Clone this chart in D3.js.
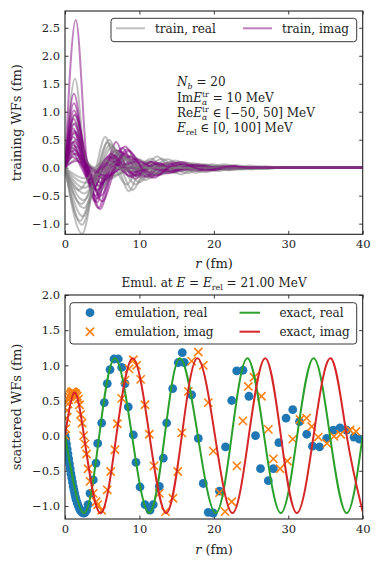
<!DOCTYPE html>
<html>
<head>
<meta charset="utf-8">
<script src="https://cdn.jsdelivr.net/npm/d3@7"></script>
<style>
  body { margin: 0; background: #fff; }
  svg text { font-family: "DejaVu Serif", serif; fill: #222; }
</style>
</head>
<body>
<div id="chart"></div>
<script>
// ---- data ----
// training wave functions: knots [r (fm), value (fm)] along each curve
const trainReal = [
  [[0,0],[1.35,1.59],[2.8,0],[3.9,-0.32],[5.1,0],[6.4,0.1],[7.8,0],[40,0]],
  [[0,0],[1.3,0.93],[2.9,0],[4.3,-0.4],[5.8,0],[7.2,0.15],[8.7,0],[10.2,-0.05],[11.8,0],[40,0]],
  [[0,0],[1.3,0.80],[3.1,0],[4.6,-0.45],[6.2,0],[7.9,0.2],[9.6,0],[11.3,-0.08],[13,0],[14.8,0.03],[16.5,0],[40,0]],
  [[0,0],[1.4,0.64],[3.2,0],[4.9,-0.38],[6.6,0],[8.4,0.22],[10.2,0],[12,-0.1],[13.8,0],[15.6,0.05],[17.4,0],[19.2,-0.02],[21,0],[40,0]],
  [[0,0],[1.5,0.50],[3.4,0],[5.2,-0.3],[7,0],[9,0.22],[11,0],[13,-0.12],[15,0],[17,0.06],[19,0],[21,-0.03],[23,0],[40,0]],
  [[0,0],[1.5,0.38],[3.5,0],[5.6,-0.22],[7.6,0],[9.8,0.15],[12,0],[14,-0.09],[16,0],[18.2,0.05],[20.3,0],[22.5,-0.025],[24.5,0],[40,0]],
  [[0,0],[1.6,0.26],[3.7,0],[6,-0.2],[8.4,0],[10.6,0.1],[12.8,0],[15,-0.07],[17.3,0],[19.5,0.04],[21.7,0],[24,-0.025],[26.3,0],[40,0]],
  [[0,0],[1.7,0.16],[3.9,0],[6.5,-0.14],[9,0],[11.5,0.08],[14,0],[16.5,-0.05],[19,0],[21.5,0.035],[24,0],[26.5,-0.02],[29,0],[40,0]],
  [[0,0],[2.3,-1.18],[4.2,0],[5.4,0.55],[6.8,0],[8.3,-0.3],[9.8,0],[11.3,0.12],[12.8,0],[14.3,-0.05],[15.8,0],[40,0]],
  [[0,0],[2.3,-1.02],[4.4,0],[5.7,0.45],[7.2,0],[8.6,-0.42],[10.1,0],[11.6,0.16],[13.1,0],[14.6,-0.09],[16.1,0],[17.6,0.04],[19.1,0],[40,0]],
  [[0,0],[2.4,-0.87],[4.5,0],[5.9,0.5],[7.5,0],[9.1,-0.4],[10.8,0],[12.4,0.2],[14,0],[15.6,-0.12],[17.2,0],[18.8,0.06],[20.4,0],[22,-0.03],[23.6,0],[40,0]],
  [[0,0],[2.5,-0.72],[4.6,0],[6.1,0.42],[7.8,0],[9.5,-0.3],[11.3,0],[13,0.16],[14.7,0],[16.4,-0.1],[18.1,0],[19.8,0.06],[21.5,0],[23.2,-0.03],[24.9,0],[40,0]],
  [[0,0],[2.5,-0.58],[4.7,0],[6.4,0.38],[8.2,0],[10,-0.26],[11.9,0],[13.8,0.15],[15.7,0],[17.6,-0.09],[19.5,0],[21.4,0.06],[23.3,0],[25.2,-0.03],[27.1,0],[40,0]],
  [[0,0],[2.6,-0.46],[4.9,0],[6.8,0.3],[8.8,0],[10.8,-0.22],[12.8,0],[14.8,0.13],[16.8,0],[18.8,-0.08],[20.8,0],[22.8,0.05],[24.8,0],[26.8,-0.025],[28.8,0],[40,0]],
  [[0,0],[2.6,-0.36],[5.1,0],[7.2,0.25],[9.4,0],[11.6,-0.15],[13.8,0],[16,0.1],[18.2,0],[20.4,-0.06],[22.6,0],[24.8,0.04],[27,0],[40,0]],
  [[0,0],[2.7,-0.27],[5.3,0],[7.6,0.2],[10,0],[12.4,-0.12],[14.8,0],[17.2,0.08],[19.6,0],[22,-0.045],[24.4,0],[26.8,0.025],[29.2,0],[40,0]],
  [[0,0],[2.8,-0.19],[5.6,0],[8.2,0.15],[10.8,0],[13.4,-0.08],[16,0],[18.6,0.05],[21.2,0],[23.8,-0.03],[26.4,0],[40,0]],
  [[0,0],[2,-0.95],[4,-0.3],[6,-0.05],[9,0],[40,0]],
  [[0,0],[2.2,-0.65],[4.3,-0.15],[6.5,0],[8.5,0.03],[11,0],[40,0]],
  [[0,0],[1.8,-0.4],[4,0],[5.5,0.12],[7.2,0],[9,-0.05],[11,0],[40,0]]
];

const trainImag = [
  [[0,0],[1.45,2.64],[3,0],[4.3,-0.62],[5.6,0],[6.9,0.46],[8.2,0],[9.5,-0.2],[10.9,0],[12.3,0.08],[13.8,0],[40,0]],
  [[0,0],[1.2,1.32],[2.8,0],[4.1,-0.5],[5.5,0],[6.8,0.3],[8.2,0],[9.6,-0.14],[11,0],[12.5,0.06],[14,0],[40,0]],
  [[0,0],[1.2,1.15],[2.9,0],[4.5,-0.72],[6.1,0],[7.7,0.35],[9.3,0],[10.9,-0.16],[12.5,0],[14.1,0.06],[15.7,0],[40,0]],
  [[0,0],[1.2,1.02],[3,0],[4.7,-0.74],[6.4,0],[8.1,0.38],[9.8,0],[11.5,-0.18],[13.2,0],[14.9,0.09],[16.6,0],[18.3,-0.04],[20,0],[40,0]],
  [[0,0],[1.15,0.87],[2.8,0],[4,-0.6],[5.4,0],[6.8,0.32],[8.3,0],[9.8,-0.16],[11.3,0],[12.8,0.08],[14.3,0],[40,0]],
  [[0,0],[1.2,0.78],[2.9,0],[4.3,-0.55],[5.8,0],[7.3,0.3],[8.9,0],[10.5,-0.17],[12.1,0],[13.7,0.09],[15.3,0],[16.9,-0.04],[18.5,0],[40,0]],
  [[0,0],[1.1,0.70],[2.6,0],[3.7,-0.45],[5,0],[6.3,0.2],[7.7,0],[9.1,-0.08],[10.6,0],[40,0]],
  [[0,0],[1.2,0.62],[2.9,0],[4.4,-0.4],[6,0],[7.6,0.28],[9.3,0],[11,-0.16],[12.7,0],[14.4,0.1],[16.1,0],[17.8,-0.06],[19.5,0],[21.2,0.03],[23,0],[40,0]],
  [[0,0],[1.1,0.55],[2.7,0],[3.9,-0.35],[5.2,0],[6.6,0.18],[8.1,0],[9.6,-0.08],[11.2,0],[40,0]],
  [[0,0],[1.2,0.47],[3,0],[4.6,-0.32],[6.3,0],[8,0.25],[9.8,0],[11.6,-0.15],[13.4,0],[15.2,0.09],[17,0],[18.8,-0.05],[20.6,0],[22.4,0.03],[24.2,0],[40,0]],
  [[0,0],[1.1,0.40],[2.6,0],[3.6,-0.3],[4.9,0],[6.2,0.12],[7.6,0],[40,0]],
  [[0,0],[1.3,0.31],[3.1,0],[4.9,-0.28],[6.8,0],[8.7,0.2],[10.6,0],[12.5,-0.13],[14.4,0],[16.3,0.08],[18.2,0],[20.1,-0.045],[22,0],[40,0]],
  [[0,0],[1.2,0.25],[3.3,0],[5.3,-0.2],[7.4,0],[9.5,0.15],[11.6,0],[13.7,-0.1],[15.8,0],[17.9,0.06],[20,0],[22.1,-0.035],[24.2,0],[40,0]],
  [[0,0],[1,0.19],[2.5,0],[3.6,-0.22],[5,0],[6.5,0.06],[8,0],[40,0]],
  [[0,0],[0.9,0.3],[2.2,0],[3.3,-0.25],[4.6,0],[5.9,0.2],[7.3,0],[8.7,-0.15],[10.1,0],[11.5,0.1],[12.9,0],[14.3,-0.07],[15.7,0],[17.1,0.05],[18.5,0],[19.9,-0.035],[21.3,0],[22.7,0.02],[24.1,0],[40,0]],
  [[0,0],[1,0.45],[2.4,0],[3.5,-0.3],[4.8,0],[6.2,0.25],[7.6,0],[9,-0.17],[10.4,0],[11.8,0.11],[13.2,0],[14.6,-0.08],[16,0],[17.4,0.05],[18.8,0],[20.2,-0.035],[21.6,0],[23,0.02],[24.4,0],[40,0]],
  [[0,0],[1,0.35],[2.5,0],[3.8,-0.38],[5.2,0],[6.6,0.22],[8,0],[9.5,-0.14],[11,0],[12.5,0.08],[14,0],[15.5,-0.05],[17,0],[18.5,0.03],[20,0],[40,0]],
  [[0,0],[1.5,0.12],[3.5,0],[5.5,-0.15],[7.6,0],[9.7,0.11],[11.8,0],[13.9,-0.07],[16,0],[18.1,0.04],[20.2,0],[40,0]],
  [[0,0],[1.3,0.95],[3.2,0],[5,-0.6],[6.8,0],[8.6,0.3],[10.4,0],[12.2,-0.14],[14,0],[15.8,0.06],[17.6,0],[40,0]],
  [[0,0],[1.2,0.66],[3,0],[4.8,-0.5],[6.6,0],[8.4,0.33],[10.2,0],[12,-0.18],[13.8,0],[15.6,0.1],[17.4,0],[19.2,-0.05],[21,0],[22.8,0.025],[24.6,0],[40,0]]
];

// emulated scattering wave function at E = 21 MeV
const emuRealR = [0,0.1,0.2,0.3,0.4,0.5,0.6,0.7,0.8,0.9,1.0,1.1,1.2,1.3,1.4,1.5,1.65,1.8,1.95,2.1,2.3,2.5,2.7,2.9,3.1,
  3.36,3.8,4.17,4.39,4.93,5.28,5.68,6.05,6.58,7.16,7.62,8.06,8.5,9.18,9.54,10.08,10.75,11.42,11.86,12.67,13.21,13.66,
  14.47,15.22,15.76,16.03,17.02,17.91,18.58,19.25,19.93,20.76,21.57,22.4,23.07,23.92,24.72,25.6,26.27,27.32,28.0,28.73,
  29.7,30.6,31.5,32.48,33.25,34.2,35.16,36.05,36.95,37.85,38.83,39.57];
const emuRealV = [0,-0.05,-0.12,-0.19,-0.26,-0.33,-0.40,-0.47,-0.54,-0.60,-0.66,-0.72,-0.77,-0.82,-0.87,-0.91,-0.96,-1.00,-1.04,-1.07,-1.09,-1.10,-1.09,-1.06,-0.98,
  -0.82,-0.63,-0.39,-0.11,0.18,0.47,0.74,0.94,1.09,1.09,0.97,0.74,0.41,0.01,-0.38,-0.73,-0.98,-1.06,-0.98,-0.72,-0.32,0.18,
  0.67,1.04,1.18,1.04,0.58,-0.04,-0.68,-1.09,-1.10,-0.79,-0.16,0.50,0.92,0.93,0.56,0.0,-0.47,-0.64,-0.47,-0.10,
  0.25,0.37,0.20,0.02,-0.15,-0.16,-0.04,0.08,0.11,0.08,-0.02,-0.05];

const emuImagR = [0,0.1,0.2,0.3,0.4,0.5,0.6,0.7,0.8,0.9,1.0,1.1,1.2,1.3,1.4,1.5,1.65,1.8,1.95,2.1,2.3,2.5,2.7,2.9,3.1,
  3.36,3.8,4.17,4.39,4.93,5.68,6.14,6.72,7.03,7.62,8.06,8.6,9.18,9.63,10.17,10.75,11.33,11.96,12.67,13.5,14.5,15.15,15.7,
  16.57,17.02,17.91,18.58,19.25,19.93,20.76,21.5,22.4,23.1,23.9,24.63,25.4,26.4,27.32,28.0,28.9,29.87,30.6,31.58,32.47,
  33.15,34.03,35.2,36.14,37.04,38.29,39.1];
const emuImagV = [0,0.10,0.25,0.36,0.45,0.51,0.55,0.58,0.60,0.62,0.62,0.62,0.61,0.60,0.60,0.58,0.56,0.52,0.44,0.30,0.18,0.0,-0.12,-0.26,-0.47,
  -0.65,-0.82,-0.94,-0.98,-1.06,-0.77,-0.51,-0.20,0.17,0.53,0.79,0.95,1.08,1.0,0.80,0.44,0.02,-0.43,-0.82,-1.08,-0.89,-0.51,0.04,
  0.63,1.06,1.19,1.0,0.47,-0.22,-0.81,-1.08,-0.94,-0.43,0.21,0.70,0.83,0.56,0.09,-0.33,-0.47,-0.36,-0.05,0.23,0.25,
  0.13,-0.02,-0.11,-0.01,0.02,0.08,0.06];

// exact solution: knots at zeros and extrema
const exactReal = [[0,0],[2.55,-1.1],[4.6,0],[6.7,1.1],[9.0,0],[11.3,-1.1],[13.4,0],[15.45,1.1],[17.85,0],[20.25,-1.1],
  [22.4,0],[24.5,1.1],[26.75,0],[29.0,-1.1],[31.2,0],[33.4,1.1],[35.6,0],[37.85,-1.1],[40,0]];
const exactImag = [[0,0],[1.2,0.61],[2.55,0],[4.7,-1.1],[6.9,0],[9.1,1.1],[11.35,0],[13.6,-1.1],[15.7,0],[17.8,1.1],
  [20.15,0],[22.5,-1.1],[24.7,0],[26.9,1.1],[29.0,0],[31.15,-1.1],[33.4,0],[35.7,1.1],[37.85,0],[40,-1.08]];

const xTicks = [0, 10, 20, 30, 40];
const yTicksTop = [-1.0, -0.5, 0.0, 0.5, 1.0, 1.5, 2.0, 2.5];
const yTicksBot = [-1.0, -0.5, 0.0, 0.5, 1.0, 1.5, 2.0];

(function () {
  const W = 381, H = 568;
  const svg = d3.select("#chart").append("svg")
    .attr("width", W).attr("height", H);

  const x = d3.scaleLinear().domain([0, 40]).range([65, 362.7]);
  const yTop = d3.scaleLinear().domain([-1.19, 2.80]).range([234.3, 11]);
  const yBot = d3.scaleLinear().domain([-1.185, 2.0]).range([519, 295]);

  // inward ticks on all four sides, labels on left/bottom
  function frame(y, yTicks, id) {
    const [y0, y1] = y.range();
    const g = svg.append("g");
    const fmt = d3.format(".1f");

    g.append("g").attr("transform", `translate(0,${y0})`)
      .call(d3.axisBottom(x).tickValues(xTicks).tickSize(-3.5).tickPadding(6).tickFormat(d3.format("d")));
    g.append("g").attr("transform", `translate(0,${y1})`)
      .call(d3.axisTop(x).tickValues(xTicks).tickSize(-3.5).tickFormat(""));
    g.append("g").attr("transform", "translate(65,0)")
      .call(d3.axisLeft(y).tickValues(yTicks).tickSize(-3.5).tickPadding(5).tickFormat(fmt));
    g.append("g").attr("transform", "translate(362.7,0)")
      .call(d3.axisRight(y).tickValues(yTicks).tickSize(-3.5).tickFormat(""));

    g.selectAll(".domain").remove();
    g.selectAll(".tick line").attr("stroke", "#222").attr("stroke-width", 0.9);
    g.selectAll(".tick text").style("font-size", "11.5px").attr("fill", "#222")
      .style("font-family", "DejaVu Serif, serif");

    svg.append("clipPath").attr("id", id)
      .append("rect").attr("x", 65).attr("y", y1).attr("width", 297.7).attr("height", y0 - y1);
    return g;
  }

  function border(y) {
    const [y0, y1] = y.range();
    svg.append("rect")
      .attr("x", 65).attr("y", y1).attr("width", 297.7).attr("height", y0 - y1)
      .attr("fill", "none").attr("stroke", "#222").attr("stroke-width", 1.1);
  }

  // math-ish text: italics, sub- and superscripts (sup can sit over the preceding sub)
  function mathText(g, xPos, yPos, parts, size) {
    const t = g.append("text").attr("x", xPos).attr("y", yPos).style("font-size", size + "px");
    let shift = 0, prev = null;
    parts.forEach(p => {
      const target = p.sub ? size * 0.25 : p.sup ? -size * 0.38 : 0;
      const s = t.append("tspan").text(p.t)
        .attr("dy", target - shift)
        .style("font-style", p.it ? "italic" : null)
        .style("font-size", (p.sub || p.sup) ? (size * 0.66) + "px" : null);
      if (p.back && prev) s.attr("dx", -prev.node().getComputedTextLength());
      shift = target;
      prev = s;
    });
    return t;
  }

  // ---------------- top panel ----------------
  frame(yTop, yTicksTop, "clipTop");

  const lineTop = d3.line()
    .x(d => x(d[0])).y(d => yTop(d[1]))
    .curve(d3.curveMonotoneX);

  const gTop = svg.append("g").attr("clip-path", "url(#clipTop)");
  trainReal.forEach((c, i) => {
    gTop.append("path").attr("d", lineTop(c))
      .attr("fill", "none").attr("stroke", "gray").attr("stroke-width", 2).attr("stroke-opacity", 0.5);
    gTop.append("path").attr("d", lineTop(trainImag[i]))
      .attr("fill", "none").attr("stroke", "purple").attr("stroke-width", 2).attr("stroke-opacity", 0.5);
  });
  border(yTop);

  // legend
  const legTop = svg.append("g");
  legTop.append("rect").attr("x", 111).attr("y", 18.3).attr("width", 245.7).attr("height", 23.4)
    .attr("rx", 3).attr("fill", "#fff").attr("stroke", "#222").attr("stroke-width", 0.9);
  [["gray", "train, real", 116], ["purple", "train, imag", 243]].forEach(([c, label, lx]) => {
    legTop.append("line").attr("x1", lx).attr("x2", lx + 29).attr("y1", 28.3).attr("y2", 28.3)
      .attr("stroke", c).attr("stroke-width", 2).attr("stroke-opacity", 0.5);
    legTop.append("text").attr("x", lx + 39).attr("y", 32.5).style("font-size", "12px").text(label);
  });

  // annotation
  const note = svg.append("g");
  mathText(note, 177, 86, [{t: "N", it: true}, {t: "b", it: true, sub: true}, {t: " = 20"}], 12);
  mathText(note, 177, 101.5, [{t: "Im"}, {t: "E", it: true}, {t: "α", it: true, sub: true},
    {t: "tr", sup: true, back: true}, {t: " = 10 MeV"}], 12);
  mathText(note, 177, 117, [{t: "Re"}, {t: "E", it: true}, {t: "α", it: true, sub: true},
    {t: "tr", sup: true, back: true}, {t: " ∈ [−50, 50] MeV"}], 12);
  mathText(note, 177, 132, [{t: "E", it: true}, {t: "rel", sub: true}, {t: " ∈ [0, 100] MeV"}], 12);

  // axis labels
  mathText(svg, 214, 268, [{t: "r", it: true}, {t: " (fm)"}], 13).attr("text-anchor", "middle");
  svg.append("text").attr("transform", "translate(21,122.7) rotate(-90)")
    .attr("text-anchor", "middle").style("font-size", "13px").text("training WFs (fm)");

  // ---------------- bottom panel ----------------
  frame(yBot, yTicksBot, "clipBot");

  const gBot = svg.append("g").attr("clip-path", "url(#clipBot)");
  gBot.selectAll("circle.emu")
    .data(emuRealR.map((r, i) => [r, emuRealV[i]]))
    .enter().append("circle").attr("class", "emu")
    .attr("cx", d => x(d[0])).attr("cy", d => yBot(d[1])).attr("r", 4.4)
    .attr("fill", "#1f77b4");

  const xSym = d3.symbol().type(d3.symbolX).size(46);
  gBot.selectAll("path.emuI")
    .data(emuImagR.map((r, i) => [r, emuImagV[i]]))
    .enter().append("path").attr("class", "emuI")
    .attr("d", xSym)
    .attr("transform", d => `translate(${x(d[0])},${yBot(d[1])})`)
    .attr("fill", "none").attr("stroke", "#ff7f0e").attr("stroke-width", 1.6);

  const lineBot = d3.line()
    .x(d => x(d[0])).y(d => yBot(d[1]))
    .curve(d3.curveNatural);
  gBot.append("path").attr("d", lineBot(exactReal))
    .attr("fill", "none").attr("stroke", "#2ca02c").attr("stroke-width", 2);
  gBot.append("path").attr("d", lineBot(exactImag))
    .attr("fill", "none").attr("stroke", "#d62728").attr("stroke-width", 2);
  border(yBot);

  // legend
  const legBot = svg.append("g");
  legBot.append("rect").attr("x", 70).attr("y", 302.7).attr("width", 286.7).attr("height", 41.3)
    .attr("rx", 3).attr("fill", "#fff").attr("stroke", "#222").attr("stroke-width", 0.9);
  legBot.append("circle").attr("cx", 90).attr("cy", 312.7).attr("r", 4.4).attr("fill", "#1f77b4");
  legBot.append("path").attr("d", xSym).attr("transform", "translate(90,331.7)")
    .attr("fill", "none").attr("stroke", "#ff7f0e").attr("stroke-width", 1.6);
  legBot.append("line").attr("x1", 239.5).attr("x2", 260).attr("y1", 312.7).attr("y2", 312.7)
    .attr("stroke", "#2ca02c").attr("stroke-width", 2);
  legBot.append("line").attr("x1", 239.5).attr("x2", 260).attr("y1", 331.7).attr("y2", 331.7)
    .attr("stroke", "#d62728").attr("stroke-width", 2);
  [["emulation, real", 115, 316.9], ["emulation, imag", 115, 335.9],
   ["exact, real", 279.5, 316.9], ["exact, imag", 279.5, 335.9]].forEach(([t, lx, ly]) => {
    legBot.append("text").attr("x", lx).attr("y", ly).style("font-size", "12px").text(t);
  });

  // title and axis labels
  mathText(svg, 214, 286.5, [{t: "Emul. at "}, {t: "E", it: true}, {t: " = "}, {t: "E", it: true},
    {t: "rel", sub: true}, {t: " = 21.00 MeV"}], 12).attr("text-anchor", "middle");
  mathText(svg, 214, 553.5, [{t: "r", it: true}, {t: " (fm)"}], 13).attr("text-anchor", "middle");
  svg.append("text").attr("transform", "translate(21,407) rotate(-90)")
    .attr("text-anchor", "middle").style("font-size", "13px").text("scattered WFs (fm)");
})();
</script>
</body>
</html>
